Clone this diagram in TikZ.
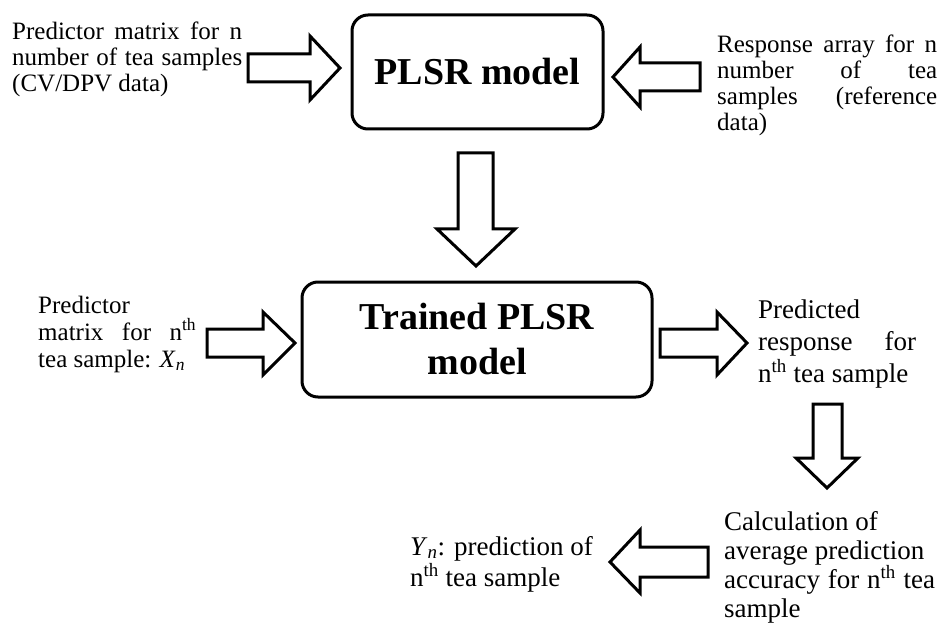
\documentclass[tikz,border=0pt]{standalone}
\usepackage{fontspec}
\setmainfont{Liberation Serif}
\begin{document}
\begin{tikzpicture}[x=1pt,y=-1pt,
  modelbox/.style={draw=black, line width=3pt, rounded corners=16pt, fill=white, font=\bfseries\fontsize{38}{45}\selectfont, align=center, inner sep=0pt},
  barrow/.style={draw=black, line width=3pt, fill=white, line join=miter},
  lbl/.style={anchor=base west, inner sep=0pt, font=\fontsize{25}{26}\selectfont},
  lblb/.style={anchor=base west, inner sep=0pt, font=\fontsize{27}{29}\selectfont}]
\useasboundingbox (0,0) rectangle (939,628);
\fill[white] (0,0) rectangle (939,628);

% boxes
\node[modelbox, minimum width=251pt, minimum height=114pt] (plsr) at (477.5,72) {PLSR model};
\node[modelbox, minimum width=350pt, minimum height=115pt] (trained) at (477,339.5) {Trained PLSR\\model};

% block arrows
\draw[barrow] (248,54) -- (310,54) -- (310,36) -- (340,68) -- (310,100) -- (310,82) -- (248,82) -- cycle;
\draw[barrow] (700,63) -- (640,63) -- (640,47) -- (613,77) -- (640,107) -- (640,91) -- (700,91) -- cycle;
\draw[barrow] (458,153) -- (493,153) -- (493,229) -- (515,229) -- (476,266) -- (437,229) -- (458,229) -- cycle;
\draw[barrow] (207,329) -- (263,329) -- (263,312) -- (295,343) -- (263,375) -- (263,357) -- (207,357) -- cycle;
\draw[barrow] (660,329) -- (717,329) -- (717,312) -- (747,343) -- (717,375) -- (717,357) -- (660,357) -- cycle;
\draw[barrow] (813,404) -- (842,404) -- (842,458) -- (858,458) -- (827,488) -- (796,458) -- (813,458) -- cycle;
\draw[barrow] (708,547) -- (640,547) -- (640,530) -- (610,562) -- (640,593) -- (640,577) -- (708,577) -- cycle;

% texts
\node[lbl] (t1) at (12,40) {\begin{tabular}[t]{@{}l@{}}
\makebox[230pt][s]{Predictor matrix for n}\\
\makebox[230pt][s]{number of tea samples}\\
(CV/DPV data)\end{tabular}};

\node[lbl] (t2) at (717,53) {\begin{tabular}[t]{@{}l@{}}
\makebox[220pt][s]{Response array for n}\\
\makebox[220pt][s]{number of tea}\\
\makebox[220pt][s]{samples (reference}\\
data)\end{tabular}};

\node[lbl, font=\fontsize{25}{27}\selectfont] (t3) at (38,313) {\begin{tabular}[t]{@{}l@{}}
Predictor\\
\makebox[158pt][s]{matrix for \smash{n\textsuperscript{th}}}\\
tea sample: \textit{X}\textsubscript{\textit{n}}\end{tabular}};

\node[lblb, font=\fontsize{27}{32}\selectfont] (t4) at (758,318) {\begin{tabular}[t]{@{}l@{}}
Predicted\\
\makebox[158pt][s]{response for}\\
\smash{n\textsuperscript{th}} tea sample\end{tabular}};

\node[lblb] (t5) at (724,530) {\begin{tabular}[t]{@{}l@{}}
Calculation of\\
average prediction\\
\makebox[211pt][s]{accuracy for \smash{n\textsuperscript{th}} tea}\\
sample\end{tabular}};

\node[lblb, font=\fontsize{27}{31}\selectfont] (t6) at (410,555) {\begin{tabular}[t]{@{}l@{}}
\smash{\textit{Y}\textsubscript{\textit{n}}}: prediction of\\
\smash{n\textsuperscript{th}} tea sample\end{tabular}};
\end{tikzpicture}
\end{document}
